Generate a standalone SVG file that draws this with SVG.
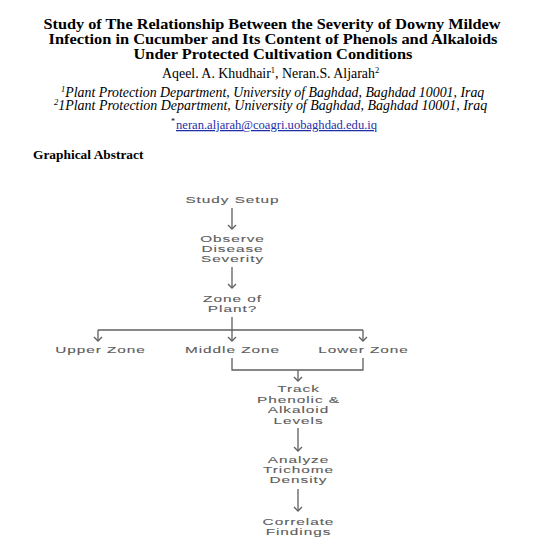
<svg xmlns="http://www.w3.org/2000/svg" width="550" height="550" viewBox="0 0 550 550">
<defs>
<style>
.title{font-family:"Liberation Serif","Times New Roman",serif;font-weight:bold;font-size:14.2px;fill:#000;text-anchor:middle}
.auth{font-family:"Liberation Serif","Times New Roman",serif;font-size:13.9px;fill:#000}
.aff{font-family:"Liberation Serif","Times New Roman",serif;font-style:italic;font-size:13.6px;fill:#000}
.sup{font-size:8.5px}
.mail{font-family:"Liberation Serif","Times New Roman",serif;font-size:12.6px;fill:#1f2fa8;text-decoration:underline}
.head{font-family:"Liberation Serif","Times New Roman",serif;font-weight:bold;font-size:13.4px;fill:#000}
.n{font-family:"Liberation Sans",Arial,sans-serif;font-size:9.6px;fill:#5c5c5c;stroke:#5c5c5c;stroke-width:0.1;letter-spacing:0.6px;text-anchor:middle}
.c{fill:none;stroke:#5f5f5f;stroke-width:1.3}
</style>
<marker id="ah" viewBox="0 0 10 10" refX="9" refY="5" markerWidth="10" markerHeight="10" markerUnits="userSpaceOnUse" orient="auto">
<path d="M5,1 L9,5 L5,9" fill="none" stroke="#5f5f5f" stroke-width="1.3"/>
</marker>
</defs>
<rect width="550" height="550" fill="#fff"/>
<g id="header">
<text class="title" x="272" y="29" textLength="457" lengthAdjust="spacingAndGlyphs">Study of The Relationship Between the Severity of Downy Mildew</text>
<text class="title" x="273" y="44" textLength="449" lengthAdjust="spacingAndGlyphs">Infection in Cucumber and Its Content of Phenols and Alkaloids</text>
<text class="title" x="273" y="58.5" textLength="279" lengthAdjust="spacingAndGlyphs">Under Protected Cultivation Conditions</text>
<text class="auth" x="162" y="78">Aqeel. A. Khudhair<tspan class="sup" dy="-5">1</tspan><tspan dy="5">, Neran.S. Aljarah</tspan><tspan class="sup" dy="-5">2</tspan></text>
<text class="aff" x="61" y="96.5"><tspan class="sup" dy="-5">1</tspan><tspan dy="5" textLength="419" lengthAdjust="spacingAndGlyphs">Plant Protection Department, University of Baghdad, Baghdad 10001, Iraq</tspan></text>
<text class="aff" x="54" y="110"><tspan class="sup" dy="-5">2</tspan><tspan dy="5" textLength="429" lengthAdjust="spacingAndGlyphs">1Plant Protection Department, University of Baghdad, Baghdad 10001, Iraq</tspan></text>
<text class="auth" x="171" y="124" style="font-size:8px">*</text>
<text class="mail" x="176" y="129">neran.aljarah@coagri.uobaghdad.edu.iq</text>
<text class="head" x="33" y="159">Graphical Abstract</text>
</g>
<g id="connectors">
<line class="c" x1="232" y1="208" x2="232" y2="229" marker-end="url(#ah)"/>
<line class="c" x1="232" y1="267" x2="232" y2="288" marker-end="url(#ah)"/>
<polyline class="c" points="232,317 232,330"/>
<polyline class="c" points="98,330 363,330"/>
<line class="c" x1="98" y1="330" x2="98" y2="341" marker-end="url(#ah)"/>
<line class="c" x1="232" y1="330" x2="232" y2="341" marker-end="url(#ah)"/>
<line class="c" x1="363" y1="330" x2="363" y2="341" marker-end="url(#ah)"/>
<polyline class="c" points="232,358 232,370 363,370 363,358"/>
<line class="c" x1="298" y1="370" x2="298" y2="381" marker-end="url(#ah)"/>
<line class="c" x1="298" y1="428" x2="298" y2="451" marker-end="url(#ah)"/>
<line class="c" x1="298" y1="489" x2="298" y2="511" marker-end="url(#ah)"/>
</g>
<g id="study-setup" transform="translate(232,0) scale(1.6,1)"><text class="n" x="0.3" y="203.5">Study Setup</text></g>
<g id="observe-disease-severity" transform="translate(232,0) scale(1.6,1)">
<text class="n" x="0.3" y="242.5">Observe</text>
<text class="n" x="0.3" y="252.5">Disease</text>
<text class="n" x="0.3" y="262.5">Severity</text>
</g>
<g id="zone-of-plant" transform="translate(232,0) scale(1.6,1)">
<text class="n" x="0.3" y="302">Zone of</text>
<text class="n" x="0.3" y="312.5">Plant?</text>
</g>
<g id="upper-zone" transform="translate(100,0) scale(1.6,1)"><text class="n" x="0.3" y="353">Upper Zone</text></g>
<g id="middle-zone" transform="translate(232,0) scale(1.6,1)"><text class="n" x="0.3" y="353">Middle Zone</text></g>
<g id="lower-zone" transform="translate(363,0) scale(1.6,1)"><text class="n" x="0.3" y="353">Lower Zone</text></g>
<g id="track-levels" transform="translate(298,0) scale(1.6,1)">
<text class="n" x="0.3" y="392.5">Track</text>
<text class="n" x="0.3" y="403">Phenolic &amp;</text>
<text class="n" x="0.3" y="413.5">Alkaloid</text>
<text class="n" x="0.3" y="424">Levels</text>
</g>
<g id="analyze-trichome" transform="translate(298,0) scale(1.6,1)">
<text class="n" x="0.3" y="463.5">Analyze</text>
<text class="n" x="0.3" y="473.5">Trichome</text>
<text class="n" x="0.3" y="483.5">Density</text>
</g>
<g id="correlate-findings" transform="translate(298,0) scale(1.6,1)">
<text class="n" x="0.3" y="525.5">Correlate</text>
<text class="n" x="0.3" y="535.5">Findings</text>
</g>
</svg>
